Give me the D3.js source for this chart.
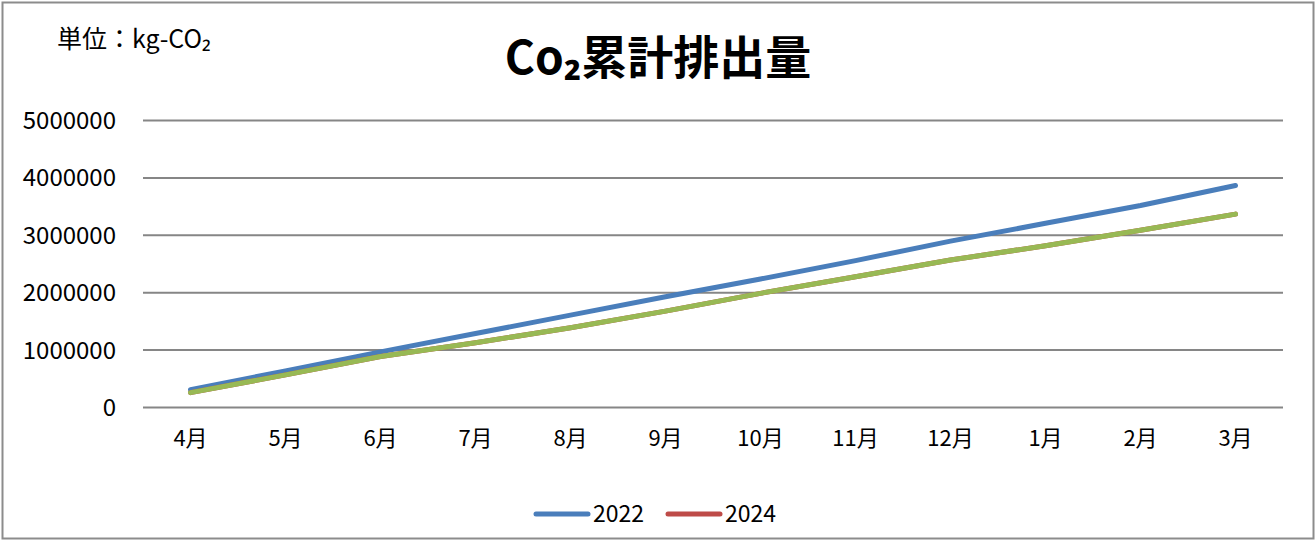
<!DOCTYPE html>
<html>
<head>
<meta charset="utf-8">
<script src="https://cdn.jsdelivr.net/npm/d3@7"></script>
<style>
  body { margin: 0; background: #fff; }
  svg text { font-family: "Noto Sans CJK JP", "Noto Sans", sans-serif; fill: #000; }
</style>
</head>
<body>
<div id="chart"></div>
<script>
// months on the x axis
var months = ['4月','5月','6月','7月','8月','9月','10月','11月','12月','1月','2月','3月'];
var yTicks = [0, 1000000, 2000000, 3000000, 4000000, 5000000];

// cumulative emissions (kg-CO2)
var values2022 = [300000, 630000, 960000, 1280000, 1600000, 1920000, 2230000, 2550000, 2890000, 3200000, 3510000, 3860000];
var values2024 = [250000, 560000, 880000, 1120000, 1380000, 1670000, 1980000, 2270000, 2560000, 2810000, 3080000, 3360000];
// green series drawn on top of the red one (not in the legend)
var valuesGreen = [250000, 560000, 880000, 1120000, 1380000, 1670000, 1980000, 2270000, 2560000, 2810000, 3080000, 3360000];

var legendNames = ['2022', '2024'];

var W = 1316, H = 541;
var margin = {left: 143, right: 33, top: 120, bottom: 134};

var svg = d3.select('#chart').append('svg')
  .attr('width', W)
  .attr('height', H);

// outer frame
svg.append('rect')
  .attr('x', 2.5).attr('y', 2.5)
  .attr('width', W - 5).attr('height', H - 5)
  .attr('fill', '#fff')
  .attr('stroke', '#8c8c8c')
  .attr('stroke-width', 2);

var x = d3.scaleBand()
  .domain(months)
  .range([margin.left, W - margin.right]);

var y = d3.scaleLinear()
  .domain([0, 5000000])
  .range([H - margin.bottom, margin.top]);

//gridlines + y labels
var yAxis = svg.append('g')
  .attr('transform', 'translate(' + margin.left + ',0)')
  .call(d3.axisLeft(y).tickValues(yTicks).tickFormat(d3.format('d'))
    .tickSize(-(W - margin.left - margin.right)).tickPadding(27));
yAxis.select('.domain').remove();
yAxis.selectAll('line').attr('stroke', '#868686').attr('stroke-width', 2);
yAxis.selectAll('text').style('font-size', '24px').attr('dy', '0.35em');

//x labels
var xAxis = svg.append('g')
  .attr('transform', 'translate(0,' + (H - margin.bottom) + ')')
  .call(d3.axisBottom(x).tickSize(0).tickPadding(23));
xAxis.select('.domain').remove();
xAxis.selectAll('text').style('font-size', '22px');

var line = d3.line()
  .x(function(d, i) { return x(months[i]) + x.bandwidth() / 2; })
  .y(function(d) { return y(d); });

var series = [
  {values: values2022, color: '#4a7ebb'},
  {values: values2024, color: '#be4b48'},
  {values: valuesGreen, color: '#98b954'}
];

svg.selectAll('.series')
  .data(series)
  .enter().append('path')
  .attr('class', 'series')
  .attr('d', function(d) { return line(d.values); })
  .attr('fill', 'none')
  .attr('stroke', function(d) { return d.color; })
  .attr('stroke-width', 5)
  .attr('stroke-linecap', 'round')
  .attr('stroke-linejoin', 'round');

//title
svg.append('text')
  .attr('x', 658).attr('y', 74)
  .attr('text-anchor', 'middle')
  .style('font-size', '46px')
  .style('font-weight', 'bold')
  .text('Co₂累計排出量');

//unit
svg.append('text')
  .attr('x', 57).attr('y', 48)
  .style('font-size', '25px')
  .text('単位：kg-CO₂');

//legend
var legend = svg.append('g').attr('class', 'legend');
var legendX = [536, 668];
legendNames.forEach(function(name, i) {
  var g = legend.append('g').attr('transform', 'translate(' + legendX[i] + ',514)');
  g.append('line')
    .attr('x1', 0).attr('x2', 52)
    .attr('stroke', series[i].color)
    .attr('stroke-width', 5)
    .attr('stroke-linecap', 'round');
  g.append('text')
    .attr('x', 57).attr('dy', '0.35em')
    .style('font-size', '23px')
    .text(name);
});
</script>
</body>
</html>
